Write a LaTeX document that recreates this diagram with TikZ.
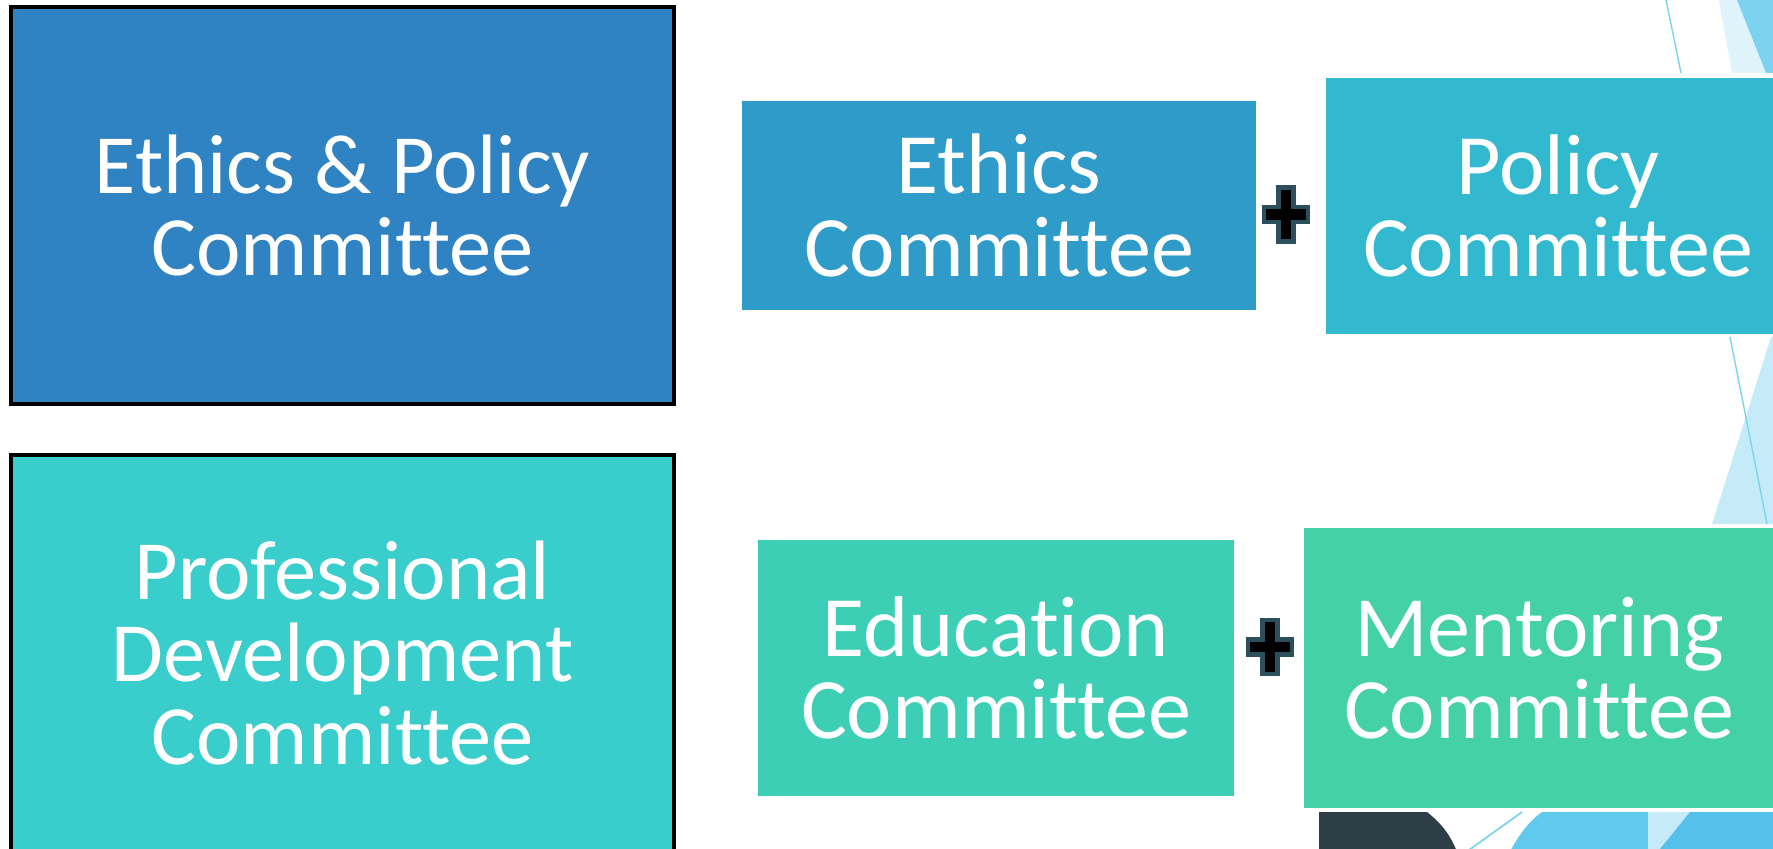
\documentclass[tikz,border=0pt]{standalone}
\usepackage{fontspec}
\setmainfont{Carlito}[Ligatures={NoCommon}]
\usetikzlibrary{positioning}
\definecolor{epcblue}{HTML}{3083C3}
\definecolor{pdcteal}{HTML}{39CECB}
\definecolor{ethblue}{HTML}{2F9BC9}
\definecolor{polteal}{HTML}{33B9CF}
\definecolor{edugreen}{HTML}{3DCFB5}
\definecolor{mengreen}{HTML}{44D1A5}
\definecolor{plusedge}{HTML}{2C4F5E}
\definecolor{decoline}{HTML}{7DD4EF}
\definecolor{decolight}{HTML}{C5EBF8}
\definecolor{decopale}{HTML}{DFF3FA}
\definecolor{decomid}{HTML}{7DD3EF}
\definecolor{decoblue}{HTML}{5FCAEE}
\definecolor{decodeep}{HTML}{55C1EA}
\definecolor{decodark}{HTML}{2D3E47}
\tikzset{
    bigbox/.style = {rectangle, draw=black, line width=0.9pt, text=white, align=center, inner sep=0pt, font=\fontsize{24}{23.5}\selectfont},
    smallbox/.style = {rectangle, text=white, align=center, inner sep=0pt, font=\fontsize{24.5}{23.5}\selectfont},
    plussign/.pic = {
      \filldraw[fill=black, draw=plusedge, line width=1.3pt]
        (-0.075,0.27) -- (0.075,0.27) -- (0.075,0.075) -- (0.22,0.075) -- (0.22,-0.075)
        -- (0.075,-0.075) -- (0.075,-0.27) -- (-0.075,-0.27) -- (-0.075,-0.075)
        -- (-0.22,-0.075) -- (-0.22,0.075) -- (-0.075,0.075) -- cycle;
    }
}
\begin{document}
\begin{tikzpicture}
  \useasboundingbox (0,0) rectangle (17.73,-8.49);
  \clip (0,0) rectangle (17.73,-8.49);
  \fill[white] (0,0) rectangle (17.73,-8.49);

  % corner decorations
  \draw[decoline, line width=0.4pt] (16.64,0.1) -- (16.81,-0.73);
  \fill[decopale] (17.17,0.1) -- (17.32,-0.73) -- (17.66,-0.73) -- (17.33,0.1) -- cycle;
  \fill[decomid] (17.33,0.1) -- (17.66,-0.73) -- (17.8,-0.73) -- (17.8,0.1) -- cycle;
  \fill[decolight] (17.12,-5.24) -- (17.71,-3.37) -- (17.8,-3.37) -- (17.8,-5.24) -- cycle;
  \draw[decoline, line width=0.4pt] (17.30,-3.37) -- (17.67,-5.24);
  \fill[decodark] (13.19,-8.6) -- (13.19,-8.12) -- (14.27,-8.12)
    .. controls (14.42,-8.24) and (14.52,-8.36) .. (14.60,-8.6) -- cycle;
  \draw[decoline, line width=0.5pt] (14.55,-8.6) -- (15.22,-8.12);
  \fill[decoblue] (15.06,-8.6) .. controls (15.16,-8.38) and (15.28,-8.22) .. (15.42,-8.12)
    -- (16.48,-8.12) -- (16.48,-8.6) -- cycle;
  \fill[decolight] (16.48,-8.12) -- (16.90,-8.12) -- (16.51,-8.6) -- (16.48,-8.6) -- cycle;
  \fill[decodeep] (16.90,-8.12) -- (17.8,-8.12) -- (17.8,-8.6) -- (16.51,-8.6) -- cycle;

  % committees
  \node[bigbox, fill=epcblue, minimum width=6.63cm, minimum height=3.97cm] (epc) at (3.425,-2.055)
    {Ethics \& Policy\\Committee};
  \node[bigbox, fill=pdcteal, minimum width=6.63cm, minimum height=3.96cm] (pdc) at (3.425,-6.53)
    {Professional\\Development\\Committee};

  \node[smallbox, fill=ethblue, minimum width=5.14cm, minimum height=2.09cm] (ethics) at (9.99,-2.055)
    {Ethics\\Committee};
  \node[smallbox, fill=polteal, minimum width=4.64cm, minimum height=2.56cm] (policy) at (15.58,-2.06)
    {Policy\\Committee};
  \node[smallbox, fill=edugreen, minimum width=4.76cm, minimum height=2.56cm] (education) at (9.96,-6.68)
    {Education\\Committee};
  \node[smallbox, fill=mengreen, minimum width=4.70cm, minimum height=2.80cm] (mentoring) at (15.39,-6.68)
    {Mentoring\\Committee};

  \pic at (12.86,-2.145) {plussign};
  \pic at (12.70,-6.47) {plussign};
\end{tikzpicture}
\end{document}
